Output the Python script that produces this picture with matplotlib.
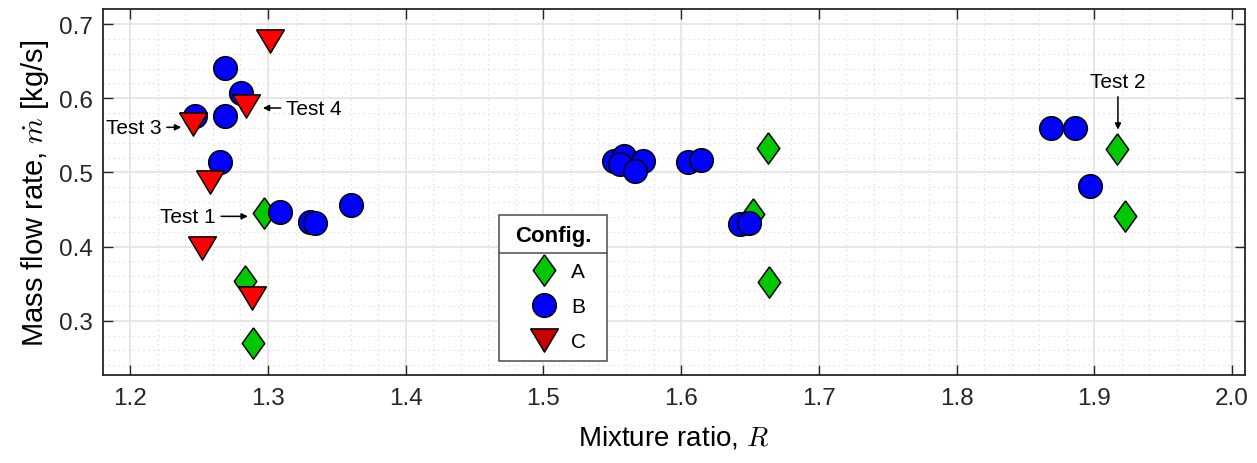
import numpy as np
import matplotlib
matplotlib.use("Agg")
import matplotlib.pyplot as plt
from matplotlib.lines import Line2D
from matplotlib.ticker import MultipleLocator

plt.rcParams["font.family"] = ["Liberation Sans", "DejaVu Sans"]
plt.rcParams["mathtext.fontset"] = "cm"

# Config A (diamonds)
a_ratio = [1.297, 1.283, 1.2895, 1.663, 1.652, 1.6638, 1.9168, 1.9221]
a_flow = [0.445, 0.354, 0.270, 0.5325, 0.444, 0.3527, 0.5315, 0.4416]

# Config B (circles)
b_ratio = [1.2685, 1.2806, 1.2472, 1.269, 1.2649, 1.3084, 1.3302, 1.3338, 1.3605,
           1.5512, 1.5582, 1.5553, 1.5723, 1.5662, 1.6049, 1.6147, 1.6425, 1.6492,
           1.8689, 1.8858, 1.8967]
b_flow = [0.6403, 0.607, 0.5764, 0.5764, 0.5136, 0.4462, 0.4336, 0.4314, 0.4565,
          0.515, 0.5225, 0.5113, 0.5158, 0.5023, 0.5136, 0.5171, 0.4305, 0.4318,
          0.5594, 0.5594, 0.4821]

# Config C (triangles)
c_ratio = [1.3017, 1.2837, 1.2455, 1.2576, 1.2523, 1.2886]
c_flow = [0.6768, 0.589, 0.5648, 0.4868, 0.3981, 0.3307]

config_labels = ["A", "B", "C"]

# annotations: label, arrow tip, text position, alignment
notes = [
    ("Test 1", (1.2854, 0.4408), (1.2619, 0.4408), "right", "center"),
    ("Test 2", (1.9172, 0.5576), (1.9172, 0.6222), "center", "center"),
    ("Test 3", (1.237, 0.5608), (1.2225, 0.5608), "right", "center"),
    ("Test 4", (1.2963, 0.5868), (1.3133, 0.5868), "left", "center"),
]

diamond = [(0, 1), (0.72, 0), (0, -1), (-0.72, 0), (0, 1)]
tri_down = [(-1, 0.835), (1, 0.835), (0, -0.835), (-1, 0.835)]

fig = plt.figure(figsize=(12.57, 4.64), dpi=100)
ax = fig.add_axes([0.0817, 0.1897, 0.9905 - 0.0817, 0.9784 - 0.1897])

ax.plot(a_ratio, a_flow, ls="none", marker=diamond, ms=22.5, mfc="#00c800",
        mec="black", mew=1.1, label=config_labels[0], zorder=3)
ax.plot(b_ratio, b_flow, ls="none", marker="o", ms=17, mfc="#0000ff",
        mec="black", mew=1.1, label=config_labels[1], zorder=3)
ax.plot(c_ratio, c_flow, ls="none", marker=tri_down, ms=20, mfc="#ff0000",
        mec="black", mew=1.1, label=config_labels[2], zorder=3)

for txt, tip, pos, ha, va in notes:
    ax.annotate(txt, xy=tip, xytext=pos, ha=ha, va=va, fontsize=15,
                arrowprops=dict(arrowstyle="-|>", lw=1.1, color="black",
                                mutation_scale=9, shrinkA=2, shrinkB=0),
                zorder=4)

ax.set_xlim(1.18, 2.0095)
ax.set_ylim(0.227, 0.7202)
ax.xaxis.set_minor_locator(MultipleLocator(0.02))
ax.yaxis.set_minor_locator(MultipleLocator(0.02))
xt = np.arange(1.2, 2.01, 0.1)
ax.set_xticks(xt)
ax.set_xticklabels([f"{v:.1f}" for v in xt])
ax.set_yticks([0.3, 0.4, 0.5, 0.6, 0.7])
ax.set_yticklabels(["0.3", "0.4", "0.5", "0.6", "0.7"])

ax.grid(which="major", color="#e3e3e3", lw=1.2, ls="-", zorder=0)
ax.grid(which="minor", color="#d6d6d6", lw=0.8, ls=(0, (1, 3.5)), zorder=0)
ax.set_axisbelow(True)
ax.tick_params(which="major", direction="in", length=7, width=1, top=True,
               right=True, labelsize=17.5, colors="#262626")
ax.tick_params(axis="x", which="major", pad=9)
ax.tick_params(axis="y", which="major", pad=7)
ax.tick_params(which="minor", length=0)
for s in ax.spines.values():
    s.set_linewidth(1.3)
    s.set_color("#262626")

ax.set_xlabel(r"Mixture ratio, $R$", fontsize=20, labelpad=10)
ax.set_ylabel(r"Mass flow rate, $\dot{m}$ [kg/s]", fontsize=21, labelpad=6)

leg = ax.legend(loc="upper left", bbox_to_anchor=(0.3472, 0.0, 0.0946, 0.438),
                mode="expand", title="Config.",
                title_fontproperties={"weight": "bold", "size": 16},
                fontsize=15, frameon=True, fancybox=False, edgecolor="#5a5a5a",
                framealpha=1, borderpad=0.48, labelspacing=0.78,
                handlelength=3.3, handletextpad=-0.33, borderaxespad=0)
leg.get_frame().set_linewidth(1.2)
leg.legend_handles[2].set_markerfacecolor("#c80000")

# separator under legend title
fig.canvas.draw()
fb = leg.get_frame().get_window_extent()
tb = leg.get_title().get_window_extent()
inv = fig.transFigure.inverted()
x0, y_sep = inv.transform((fb.x0, tb.y0 - 7))
x1, _ = inv.transform((fb.x1, tb.y0 - 7))
fig.add_artist(Line2D([x0, x1], [y_sep, y_sep], color="#5a5a5a", lw=1.2, zorder=10))

fig.savefig("out.png", dpi=100)
